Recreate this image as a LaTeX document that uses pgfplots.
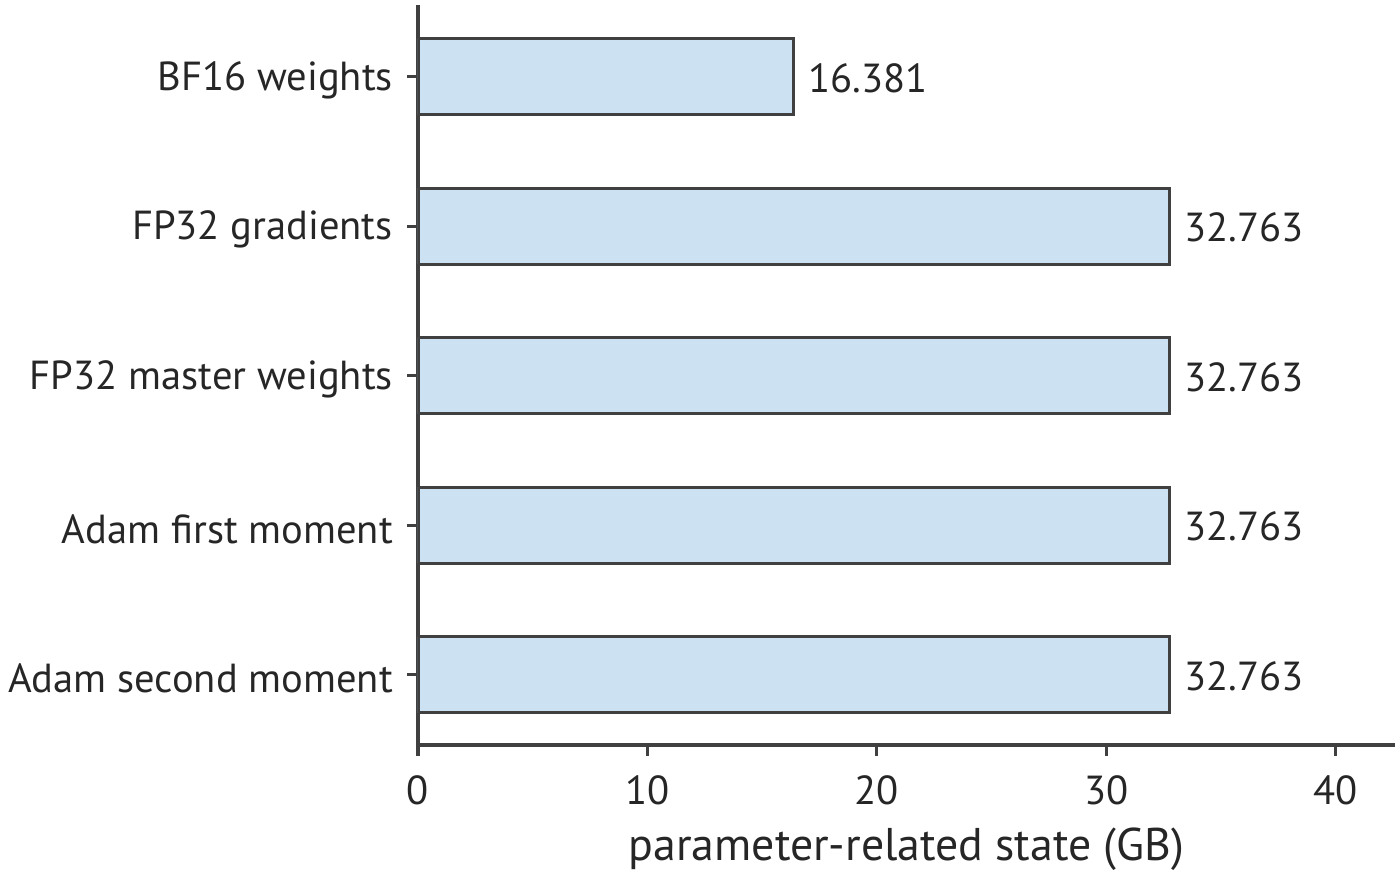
\documentclass[border=0pt]{standalone}
\usepackage{pgfplots}
\pgfplotsset{compat=1.18}
\usepackage{fontspec}
\setmainfont{PT Sans}
\definecolor{barfill}{HTML}{CCE2F2}
\definecolor{edge}{HTML}{404040}
\definecolor{txt}{HTML}{262626}
\begin{document}
\fontsize{14.6pt}{17pt}\selectfont
\begin{tikzpicture}[x=1pt,y=1pt]
\useasboundingbox (-150.48,-47.16) rectangle (353.52,268.2);
\begin{axis}[
  at={(0,0)}, anchor=south west,
  scale only axis,
  width=351.7pt, height=266.4pt,
  xbar, bar width=27.4pt,
  xmin=0, xmax=42.59,
  ymin=-0.47, ymax=4.48,
  ytick={0,1,2,3,4},
  yticklabels={Adam second moment,Adam first moment,FP32 master weights,FP32 gradients,BF16 weights},
  xtick={0,10,20,30,40},
  axis x line*=bottom, axis y line*=left,
  axis line style={edge, line width=1.1pt},
  x axis line style={-}, y axis line style={-},
  tick style={edge, line width=1.1pt},
  tick align=outside, major tick length=4pt,
  xlabel={parameter-related state (GB)},
  xlabel style={text=txt, yshift=1.6pt, font=\fontsize{16.5pt}{19pt}\selectfont},
  ticklabel style={text=txt},
  xticklabel style={yshift=-2pt},
  yticklabel style={yshift=-1.3pt},
  /pgf/number format/assume math mode=true,
  nodes near coords,
  nodes near coords style={text=txt, xshift=0pt, yshift=-0.5pt, /pgf/number format/fixed, /pgf/number format/precision=3, /pgf/number format/fixed zerofill, /pgf/number format/assume math mode=true},
  font=\fontsize{14.6pt}{17pt}\selectfont,
]
\addplot[fill=barfill, draw=edge, line width=1.1pt] coordinates {
  (32.763,0) (32.763,1) (32.763,2) (32.763,3) (16.381,4)
};
\end{axis}
\end{tikzpicture}
\end{document}
